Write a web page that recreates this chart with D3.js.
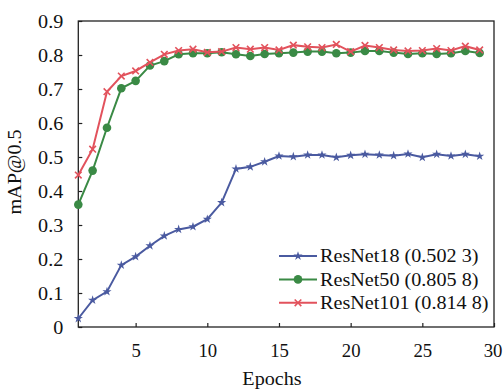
<!DOCTYPE html>
<html><head><meta charset="utf-8">
<script src="https://cdn.jsdelivr.net/npm/d3@7"></script>
<style>body{margin:0;background:#fff}svg{display:block}text{font-family:"Liberation Serif","Times New Roman",serif;fill:#111}</style>
</head><body>
<script>
const epochs = d3.range(1, 30);
const resnet18 = [0.025,0.079,0.104,0.182,0.207,0.239,0.268,0.287,0.295,0.317,0.366,0.465,0.471,0.486,0.503,0.501,0.506,0.506,0.499,0.505,0.508,0.506,0.504,0.509,0.499,0.508,0.503,0.508,0.5023];
const resnet50 = [0.360,0.460,0.586,0.702,0.724,0.769,0.782,0.802,0.805,0.805,0.808,0.802,0.797,0.803,0.805,0.807,0.810,0.810,0.805,0.807,0.812,0.812,0.807,0.803,0.805,0.803,0.805,0.812,0.8058];
const resnet101 = [0.447,0.523,0.692,0.738,0.753,0.778,0.802,0.813,0.817,0.808,0.810,0.822,0.817,0.822,0.815,0.829,0.824,0.822,0.831,0.810,0.828,0.822,0.815,0.812,0.813,0.819,0.813,0.826,0.8148];
const seriesNames = ["ResNet18 (0.502 3)", "ResNet50 (0.805 8)", "ResNet101 (0.814 8)"];
const xTicks = [5,10,15,20,25,30];
const yTicks = [0,0.1,0.2,0.3,0.4,0.5,0.6,0.7,0.8,0.9];

const W = 503, H = 392;
const m = {l:78.3, r:9, t:21, b:65};
const svg = d3.select("body").append("svg").attr("width", W).attr("height", H);
const x = d3.scaleLinear().domain([1,30]).range([m.l, W-m.r]);
const y = d3.scaleLinear().domain([0,0.9]).range([H-m.b, m.t]);

const series = [
  {name:seriesNames[0], vals:resnet18, color:"#4a5aa0", marker:"star"},
  {name:seriesNames[1], vals:resnet50, color:"#3a8a45", marker:"circle"},
  {name:seriesNames[2], vals:resnet101, color:"#e2525c", marker:"cross"}
];

const fs = 18, sx = 1.12, sxt = 1.04;

// axes
const gx = svg.append("g").attr("transform", `translate(0,${H-m.b})`)
  .call(d3.axisBottom(x).tickValues(xTicks).tickSizeInner(-4).tickSizeOuter(0).tickPadding(0).tickFormat(d3.format("d")));
const gy = svg.append("g").attr("transform", `translate(${m.l},0)`)
  .call(d3.axisLeft(y).tickValues(yTicks).tickSizeInner(-4).tickSizeOuter(0).tickPadding(0).tickFormat(d => d===0 ? "0" : d3.format(".1f")(d)));
[gx, gy].forEach(g => { g.select(".domain").remove(); g.selectAll("line").attr("stroke","#222").attr("stroke-width",1.2); });
gx.selectAll("text").attr("font-size", fs).attr("dy", null).attr("y", 0).attr("x", 0)
  .attr("transform", d => `translate(${d===30 ? -1.5 : 0},30) scale(${sxt},1)`)
  .attr("text-anchor","middle");
gy.selectAll("text").attr("font-size", fs).attr("x", 0).attr("dy","0.35em")
  .attr("transform", `translate(-15,0) scale(${sx},1)`).attr("text-anchor","end");

// frame
svg.append("rect").attr("x", m.l).attr("y", m.t).attr("width", W-m.r-m.l).attr("height", H-m.b-m.t)
  .attr("fill","none").attr("stroke","#222").attr("stroke-width",1.3);

function drawMarker(g, type, color, cx, cy){
  if (type === "circle") {
    g.append("circle").attr("cx",cx).attr("cy",cy).attr("r",4.3).attr("fill",color);
  } else if (type === "star") {
    g.append("path").attr("d", d3.symbol().type(d3.symbolStar).size(26)()).attr("transform",`translate(${cx},${cy})`).attr("fill",color);
  } else {
    const s = 3.3;
    g.append("path").attr("d",`M${cx-s},${cy-s}L${cx+s},${cy+s}M${cx-s},${cy+s}L${cx+s},${cy-s}`).attr("stroke",color).attr("stroke-width",1.6);
  }
}

const line = d3.line().x((d,i)=>x(epochs[i])).y(d=>y(d));
series.forEach(s => {
  const g = svg.append("g");
  g.append("path").attr("d", line(s.vals)).attr("fill","none").attr("stroke",s.color).attr("stroke-width",2);
  s.vals.forEach((v,i) => drawMarker(g, s.marker, s.color, x(epochs[i]), y(v)));
});

// legend
const lg = svg.append("g");
series.forEach((s,i) => {
  const ly = 256 + i*23.4;
  lg.append("line").attr("x1",279).attr("x2",317).attr("y1",ly).attr("y2",ly).attr("stroke",s.color).attr("stroke-width",2);
  drawMarker(lg, s.marker, s.color, 298, ly);
  lg.append("text").attr("x",0).attr("y",0).attr("dy","0.35em").attr("font-size",fs)
    .attr("transform",`translate(320,${ly}) scale(${sx},1)`).text(s.name);
});

// axis titles
svg.append("text").attr("font-size",fs).attr("text-anchor","middle")
  .attr("transform",`translate(272,385) scale(${sx},1)`).text("Epochs");
svg.append("text").attr("font-size",fs).attr("text-anchor","middle")
  .attr("transform",`translate(21,172) rotate(-90) scale(${sx},1)`).text("mAP@0.5");
</script>
</body></html>
